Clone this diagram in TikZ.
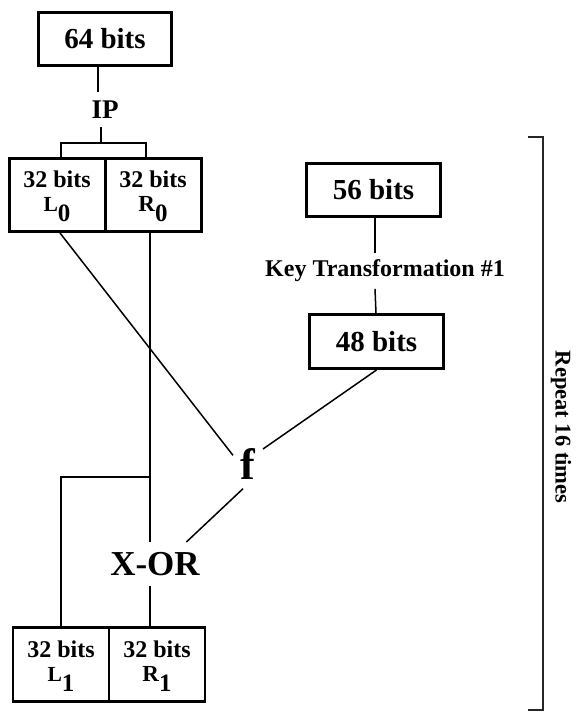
\documentclass[tikz,border=0pt]{standalone}
\usepackage{fontspec}
\setmainfont{Liberation Serif}
\newcommand\lowdig[1]{\raisebox{-10pt}{\fontsize{25}{25}\selectfont #1}}
\newcommand\letr[2]{{\fontsize{#1}{#1}\selectfont #2}}
\newcommand\topstrut{\rule{0pt}{20pt}}
\begin{document}
\begin{tikzpicture}[x=1pt,y=-1pt,
  box/.style={draw,line width=3pt,inner sep=0pt,minimum width=134pt,minimum height=53pt,font=\fontsize{29}{29}\selectfont\bfseries},
  half/.style={draw,line width=3pt,minimum width=96pt,minimum height=73pt,inner sep=0pt,align=center,font=\fontsize{24}{24}\selectfont\bfseries},
  lbl/.style={inner sep=0pt,font=\bfseries},
  conn/.style={line width=1.5pt}]
\useasboundingbox (0,0) rectangle (576,712);
% boxes
\node[box,minimum width=133pt] (b64) at (105,38.5) {64 bits};
\node[lbl,inner ysep=8.5pt,font=\fontsize{27}{27}\selectfont\bfseries] (ip) at (105,109.5) {IP};
\node[half] (L0) at (57,195) {\topstrut 32 bits\\\letr{21.5}{L}\lowdig{0}};
\node[half] (R0) at (153,195) {\topstrut 32 bits\\\letr{23}{R}\lowdig{0}};
\node[box] (b56) at (373.5,189.5) {56 bits};
\node[lbl,inner ysep=6.6pt,font=\fontsize{24}{24}\selectfont\bfseries] (kt) at (385,271) {Key Transformation \#1};
\node[box,minimum height=54pt] (b48) at (376.5,341.5) {48 bits};
\node[lbl,inner xsep=7.5pt,inner ysep=9pt,font=\fontsize{44}{44}\selectfont\bfseries] (f) at (248,464) {f};
\node[lbl,inner xsep=6pt,inner ysep=10pt,font=\fontsize{35}{35}\selectfont\bfseries] (xor) at (155,564) {X-OR};
\node[half,line width=2.6pt,minimum height=74pt] (L1) at (61,664.5) {\topstrut 32 bits\\\letr{21.5}{L}\lowdig{1}};
\node[half,line width=2.6pt,minimum height=74pt] (R1) at (157,664.5) {\topstrut 32 bits\\\letr{23}{R}\lowdig{1}};
\node[inner sep=0pt,rotate=-90,font=\fontsize{22.5}{22.5}\selectfont\bfseries] (rep) at (561,427) {Repeat 16 times};
% connectors
\coordinate (split) at (101,143);
\coordinate (br) at (150,477);
\draw[conn] ([xshift=-7pt]b64.south) -- ([xshift=-7pt]ip.north);
\draw[conn] ([xshift=-4pt]ip.south) -- (split);
\draw[conn] ([xshift=4pt]L0.north) |- (split) -| ([xshift=-7pt]R0.north);
\draw[conn] ([xshift=3pt]L0.south) -- (f.150);
\draw[conn] ([xshift=-3pt]R0.south) -- ([xshift=-5pt]xor.north);
\draw[conn] (br) -| (L1.north);
\draw[conn] ([xshift=-5pt]xor.south) -- ([xshift=-7pt]R1.north);
\draw[conn] (b48.south) -- (f.45);
\draw[conn] ([xshift=-5pt]f.south) -- (xor.35);
\draw[conn] ([xshift=1.5pt]b56.south) -- ([xshift=-10pt]kt.north);
\draw[conn] ([xshift=-10pt]kt.south) -- ([xshift=-0.5pt]b48.north);
% bracket
\draw[line width=1.8pt,black!85] (528,137) -- (543,137) -- (543,710) -- (528,710);
\end{tikzpicture}
\end{document}
